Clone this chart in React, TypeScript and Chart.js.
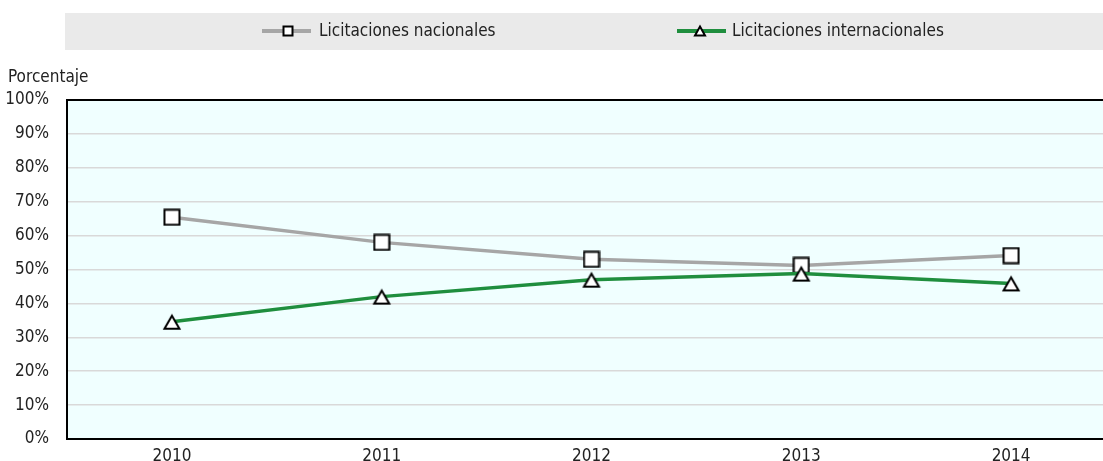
import React, { useEffect, useRef } from 'react';
import { Chart, registerables } from 'chart.js';

Chart.register(...registerables);

const categories = ['2010', '2011', '2012', '2013', '2014'];
const nacionales = [65.4, 58.0, 53.0, 51.2, 54.1];
const internacionales = [34.6, 42.0, 47.0, 48.8, 45.9];
const seriesNames = ['Licitaciones nacionales', 'Licitaciones internacionales'];
const yAxisTitle = 'Porcentaje';

const FONT = "'Liberation Sans Narrow', 'Arial Narrow', 'DejaVu Sans Condensed', sans-serif";
const FONT_SIZE = 17;
const GRAY = '#A6A6A6';
const GREEN = '#1F8E3E';
const TEXT = '#222222';

function drawSquare(ctx: CanvasRenderingContext2D, x: number, y: number, s: number) {
  ctx.fillStyle = '#FFFFFF';
  ctx.strokeStyle = '#000000';
  ctx.lineWidth = 2;
  ctx.fillRect(x - s / 2, y - s / 2, s, s);
  ctx.strokeRect(x - s / 2, y - s / 2, s, s);
}

function drawTriangle(ctx: CanvasRenderingContext2D, x: number, y: number, w: number, h: number) {
  ctx.fillStyle = '#FFFFFF';
  ctx.strokeStyle = '#000000';
  ctx.lineWidth = 2;
  ctx.lineJoin = 'miter';
  ctx.beginPath();
  ctx.moveTo(x, y - h / 2);
  ctx.lineTo(x + w / 2, y + h / 2);
  ctx.lineTo(x - w / 2, y + h / 2);
  ctx.closePath();
  ctx.fill();
  ctx.stroke();
}

function makeMarker(kind: 'square' | 'triangle'): HTMLCanvasElement {
  const c = document.createElement('canvas');
  const w = kind === 'square' ? 18 : 20;
  const h = 18;
  c.width = w;
  c.height = h;
  const ctx = c.getContext('2d')!;
  if (kind === 'square') drawSquare(ctx, w / 2, h / 2, 15);
  else drawTriangle(ctx, w / 2, h / 2 + 0.5, 15, 13);
  return c;
}

export default function App() {
  const ref = useRef<HTMLCanvasElement>(null);

  useEffect(() => {
    if (!ref.current) return;

    const decor = {
      id: 'decor',
      beforeDraw(chart: any) {
        const { ctx, chartArea: a } = chart;
        ctx.save();
        ctx.fillStyle = '#F0FFFF';
        ctx.fillRect(a.left, a.top, a.right - a.left, a.bottom - a.top);
        // legend box
        ctx.fillStyle = '#EAEAEA';
        ctx.fillRect(65, 13, chart.width - 65, 37);
        const ly = 31;
        ctx.lineCap = 'butt';
        ctx.strokeStyle = GRAY;
        ctx.lineWidth = 4;
        ctx.beginPath();
        ctx.moveTo(262, ly);
        ctx.lineTo(311, ly);
        ctx.stroke();
        drawSquare(ctx, 288, ly, 9);
        ctx.strokeStyle = GREEN;
        ctx.lineWidth = 4;
        ctx.beginPath();
        ctx.moveTo(677, ly);
        ctx.lineTo(726, ly);
        ctx.stroke();
        drawTriangle(ctx, 700, ly, 10, 9);
        ctx.fillStyle = TEXT;
        ctx.font = `${FONT_SIZE}px ${FONT}`;
        ctx.textBaseline = 'middle';
        ctx.textAlign = 'left';
        ctx.fillText(seriesNames[0], 319, ly + 1);
        ctx.fillText(seriesNames[1], 732, ly + 1);
        // axis title
        ctx.textBaseline = 'alphabetic';
        ctx.fillText(yAxisTitle, 8, 82);
        ctx.restore();
      },
      afterDatasetsDraw(chart: any) {
        const { ctx, chartArea: a } = chart;
        ctx.save();
        ctx.strokeStyle = '#000000';
        ctx.lineWidth = 2;
        ctx.beginPath();
        ctx.moveTo(a.left - 1, a.top);
        ctx.lineTo(a.right, a.top);
        ctx.stroke();
        ctx.restore();
      },
    };

    const squareMarker = makeMarker('square');
    const triangleMarker = makeMarker('triangle');

    const chart = new Chart(ref.current, {
      type: 'line',
      data: {
        labels: categories,
        datasets: [
          {
            label: seriesNames[0],
            data: nacionales,
            borderColor: GRAY,
            borderWidth: 3.5,
            pointStyle: squareMarker,
            pointRadius: 9,
            tension: 0,
            order: 2,
          },
          {
            label: seriesNames[1],
            data: internacionales,
            borderColor: GREEN,
            borderWidth: 3.5,
            pointStyle: triangleMarker,
            pointRadius: 9,
            tension: 0,
            order: 1,
          },
        ],
      },
      options: {
        responsive: false,
        animation: false,
        layout: { autoPadding: false, padding: { top: 100, left: 0, right: 0, bottom: 0 } },
        plugins: {
          legend: { display: false },
          tooltip: { enabled: false },
          title: { display: false },
        },
        scales: {
          x: {
            offset: true,
            grid: { display: false, drawTicks: false },
            border: { display: true, color: '#000000', width: 2 },
            ticks: {
              color: TEXT,
              font: { family: FONT, size: FONT_SIZE },
              padding: 7,
              maxRotation: 0,
              autoSkip: false,
            },
            afterFit(scale: any) {
              scale.height = 22;
            },
          },
          y: {
            min: 0,
            max: 100,
            grid: {
              drawTicks: false,
              lineWidth: 1.5,
              color: (c: any) => (c.tick && (c.tick.value === 0 || c.tick.value === 100) ? 'rgba(0,0,0,0)' : '#D9D9D9'),
            },
            border: { display: true, color: '#000000', width: 2 },
            ticks: {
              stepSize: 10,
              color: TEXT,
              font: { family: FONT, size: FONT_SIZE },
              padding: 18,
              callback: (v: any) => `${v}%`,
            },
            afterFit(scale: any) {
              scale.width = 67;
              scale.paddingTop = 0;
              scale.paddingBottom = 0;
            },
          },
        },
      },
      plugins: [decor],
    } as any);

    return () => chart.destroy();
  }, []);

  return (
    <div style={{ position: 'fixed', left: 0, top: 0, width: 1103, height: 461, overflow: 'hidden', background: '#FFFFFF' }}>
      <canvas ref={ref} width={1116} height={461} style={{ display: 'block', width: 1116, height: 461 }} />
    </div>
  );
}
